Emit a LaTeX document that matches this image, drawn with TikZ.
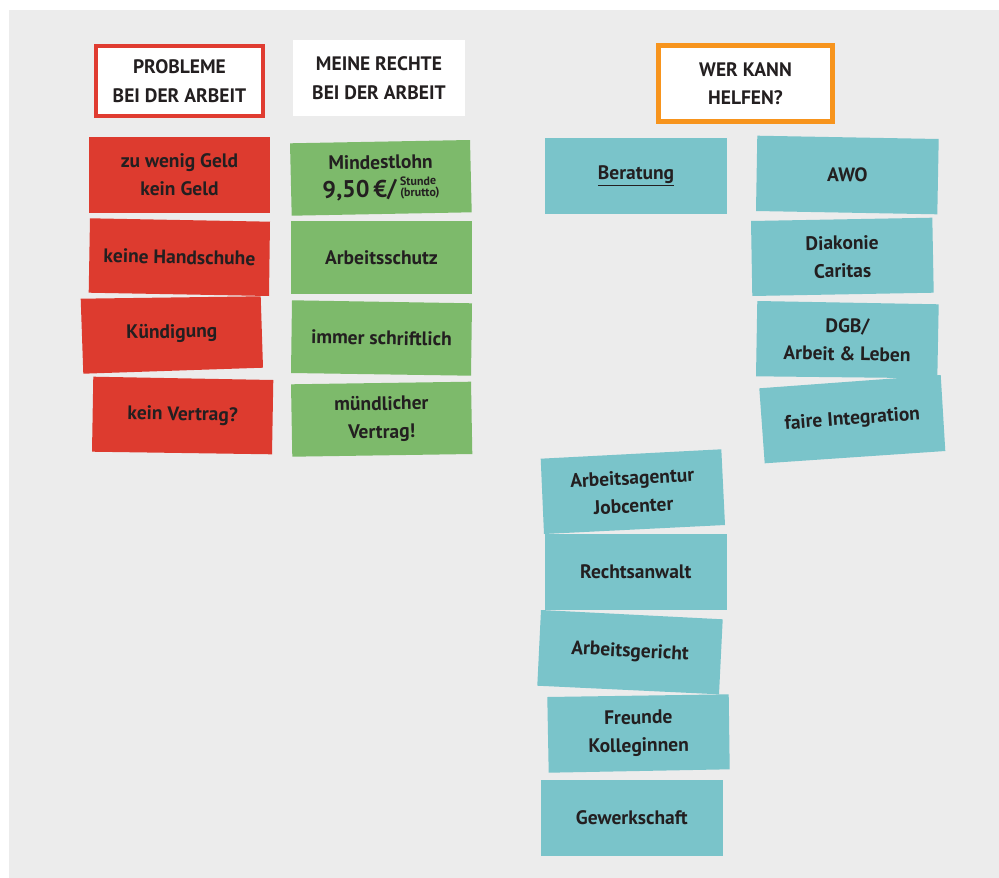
\documentclass[tikz,border=0pt]{standalone}
\usepackage{fontspec}
\setmainfont{PT Sans}
\usetikzlibrary{calc}
\definecolor{bg}{HTML}{ECECEC}
\definecolor{cred}{HTML}{DD3B2F}
\definecolor{cgreen}{HTML}{7DBA6B}
\definecolor{cteal}{HTML}{7AC4CA}
\definecolor{corange}{HTML}{F7941D}
\definecolor{bred}{HTML}{E03C31}
\definecolor{ink}{HTML}{231F20}
\newcommand\cardfont{\bfseries\fontsize{19.5}{28}\selectfont}
\newcommand\hdrfont{\bfseries\fontsize{19.5}{28.5}\selectfont}
\tikzset{
  cardtext/.style={inner sep=0pt, align=center, text=ink, font=\cardfont},
  hdr/.style={inner sep=0pt, align=center, text=ink, font=\hdrfont, fill=white},
}
% #1 name, #2 colour, #3..#6 corners (TL, TR, BR, BL), #7 text
\newcommand\mycard[7]{%
  \fill[#2] #3 -- #4 -- #5 -- #6 -- cycle;
  \path let \p1=#3, \p2=#4, \n1={atan2(\y2-\y1,\x2-\x1)} in
    node[cardtext, rotate=\n1] (#1) at ($#3!0.5!#5$) {#7};
}
\begin{document}
\begin{tikzpicture}[x=1pt,y=-1pt]
\useasboundingbox (0,0) rectangle (999,878);
\fill[white] (0,0) rectangle (999,878);
\fill[bg] (9,10) rectangle (999,878);

% headers
\node[hdr, draw=bred, line width=4pt, minimum width=167pt, minimum height=70pt] (h1) at (179.5,81) {PROBLEME\\BEI DER ARBEIT};
\node[hdr, minimum width=172pt, minimum height=76pt] (h2) at (379,78) {MEINE RECHTE\\BEI DER ARBEIT};
\node[hdr, draw=corange, line width=5pt, minimum width=174pt, minimum height=76pt] (h3) at (745.5,83.5) {WER KANN\\HELFEN?};

% red cards
\mycard{r1}{cred}{(89,137)}{(270,137)}{(270,213)}{(89,213)}{zu wenig Geld\\kein Geld}
\mycard{r2}{cred}{(90,218.3)}{(270,221.7)}{(269,296)}{(88.7,292.7)}{keine Handschuhe}
\mycard{r3}{cred}{(80.7,298.7)}{(260.7,296.3)}{(263,367.7)}{(83.3,373.7)}{Kündigung}
\mycard{r4}{cred}{(93.3,376.7)}{(273.3,380)}{(272,454.3)}{(92,451.7)}{kein Vertrag?}

% green cards
\mycard{g1}{cgreen}{(290,143.3)}{(470,140)}{(471.7,212.3)}{(291.7,215.7)}{Mindestlohn\\{\fontsize{24}{24}\selectfont 9,50\,€/}\,{\fontsize{12}{12}\selectfont\begin{tabular}[b]{@{}l@{}}Stunde\\[-1pt](brutto)\end{tabular}}}
\mycard{g2}{cgreen}{(291,221)}{(472,221)}{(472,294)}{(291,294)}{Arbeitsschutz}
\mycard{g3}{cgreen}{(292,300.3)}{(472,303.3)}{(471,375.7)}{(291,373)}{immer schriftlich}
\mycard{g4}{cgreen}{(291,384.3)}{(471,381.7)}{(472.3,454)}{(292.3,456.7)}{mündlicher\\Vertrag!}

% teal cards
\mycard{t0}{cteal}{(545,138)}{(727,138)}{(727,213.7)}{(545,213.7)}{\underline{Beratung}}
\mycard{t1}{cteal}{(757.3,135.7)}{(938.7,139)}{(937.3,214.3)}{(756,211)}{AWO}
\mycard{t2}{cteal}{(751,221)}{(932.3,217.7)}{(933.7,292.7)}{(752.3,296)}{Diakonie\\Caritas}
\mycard{t3}{cteal}{(757.3,301)}{(938.7,304.3)}{(937.3,378.3)}{(756,376.3)}{DGB/\\Arbeit \& Leben}
\mycard{t4}{cteal}{(759.3,388.3)}{(940.7,375)}{(945.3,451)}{(764.7,463.3)}{faire Integration}
\mycard{t5}{cteal}{(540.7,458.7)}{(721.3,449.3)}{(725,525)}{(544,534)}{Arbeitsagentur\\Jobcenter}
\mycard{t6}{cteal}{(545,534)}{(726.7,534)}{(726.7,610)}{(545,610)}{Rechtsanwalt}
\mycard{t7}{cteal}{(541,610)}{(722.7,619.3)}{(719,694.3)}{(537.3,685.7)}{Arbeitsgericht}
\mycard{t8}{cteal}{(547.3,697)}{(728.7,694.3)}{(729.7,769.3)}{(548.7,772.7)}{Freunde\\Kolleginnen}
\mycard{t9}{cteal}{(541,780)}{(722.7,780)}{(722.7,856)}{(541,856)}{Gewerkschaft}
\end{tikzpicture}
\end{document}
